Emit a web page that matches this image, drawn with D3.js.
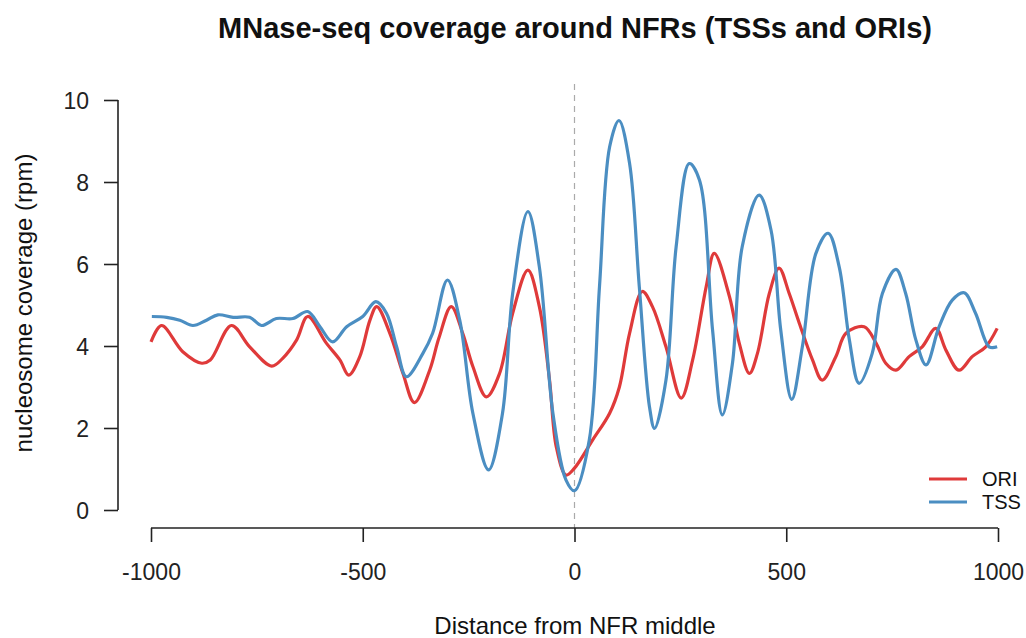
<!DOCTYPE html>
<html>
<head>
<meta charset="utf-8">
<script src="https://cdn.jsdelivr.net/npm/d3@7"></script>
<style>
  body { margin: 0; background: #fff; overflow: hidden; }
  text { font-family: "Liberation Sans", Arial, sans-serif; fill: #111; }
</style>
</head>
<body>
<script>
const w = 1026;
const h = 638;

// data
const oriPos = [-1000, -975, -925, -880, -860, -810, -767, -715, -689, -656, -630, -586, -554, -533, -507, -483, -467, -436, -405, -378, -342, -320, -291, -264, -240, -208, -177, -146, -110, -83, -59, -43, -20, 0, 43, 83, 106, 130, 160, 184, 216, 252, 279, 311, 330, 366, 389, 413, 432, 460, 483, 507, 531, 562, 585, 617, 641, 684, 712, 735, 759, 790, 821, 853, 877, 908, 939, 971, 998];
const oriVal = [4.1, 4.5, 3.86, 3.58, 3.66, 4.5, 3.98, 3.51, 3.7, 4.15, 4.72, 4.07, 3.66, 3.29, 3.74, 4.63, 4.96, 4.31, 3.33, 2.62, 3.41, 4.2, 4.96, 4.31, 3.5, 2.76, 3.33, 4.8, 5.85, 4.96, 3.17, 1.54, 0.85, 1.02, 1.71, 2.36, 3.0, 4.31, 5.33, 4.96, 3.98, 2.73, 3.66, 5.45, 6.26, 5.2, 4.07, 3.33, 3.82, 5.28, 5.9, 5.28, 4.55, 3.66, 3.17, 3.74, 4.31, 4.47, 4.07, 3.58, 3.41, 3.74, 3.98, 4.43, 3.9, 3.41, 3.74, 3.98, 4.43];

const tssPos = [-998, -963, -932, -901, -869, -842, -806, -767, -739, -704, -665, -630, -601, -571, -538, -500, -469, -444, -420, -397, -358, -335, -300, -271, -240, -203, -170, -146, -110, -83, -51, -20, 0, 35, 59, 83, 105, 130, 153, 177, 189, 216, 240, 271, 295, 326, 349, 373, 396, 436, 464, 487, 513, 538, 570, 599, 625, 649, 672, 703, 727, 759, 782, 806, 830, 861, 892, 920, 947, 979, 998];
const tssVal = [4.72, 4.7, 4.63, 4.5, 4.63, 4.76, 4.7, 4.7, 4.5, 4.67, 4.67, 4.84, 4.47, 4.1, 4.47, 4.72, 5.08, 4.8, 3.98, 3.25, 3.82, 4.31, 5.61, 4.63, 2.36, 0.98, 2.36, 5.28, 7.28, 5.93, 2.36, 0.73, 0.47, 1.71, 5.45, 8.86, 9.5, 8.46, 5.45, 2.52, 1.99, 3.17, 6.42, 8.45, 8.05, 4.39, 2.32, 3.58, 6.42, 7.68, 6.83, 4.39, 2.7, 3.98, 6.26, 6.75, 5.93, 4.15, 3.09, 3.82, 5.28, 5.87, 5.28, 4.15, 3.54, 4.47, 5.12, 5.3, 4.8, 3.98, 3.98];

const xTicks = [-1000, -500, 0, 500, 1000];
const yTicks = [0, 2, 4, 6, 8, 10];
const seriesNames = ["ORI", "TSS"];
const colors = ["#df3a3a", "#4b8ec2"];

const svg = d3.select("body").append("svg").attr("width", w).attr("height", h);

const xScale = d3.scaleLinear().domain([-1000, 1000]).range([151, 998]);
const yScale = d3.scaleLinear().domain([0, 10]).range([510, 100]);

//title
svg.append("text")
  .attr("x", 575).attr("y", 38)
  .attr("text-anchor", "middle")
  .style("font-size", "29px").style("font-weight", "bold")
  .text("MNase-seq coverage around NFRs (TSSs and ORIs)");

//zero line
svg.append("line")
  .attr("x1", xScale(0)).attr("x2", xScale(0))
  .attr("y1", 84).attr("y2", 528)
  .style("stroke", "#aaa").style("stroke-width", 1.2)
  .style("stroke-dasharray", "6,5");

//lines
const line = d3.line()
  .x((d) => xScale(d[0]))
  .y((d) => yScale(d[1]))
  .curve(d3.curveCatmullRom.alpha(0.5));

const series = [
  d3.zip(oriPos, oriVal),
  d3.zip(tssPos, tssVal)
];

svg.selectAll("path.series")
  .data(series)
  .enter()
  .append("path")
  .attr("class", "series")
  .attr("d", line)
  .style("fill", "none")
  .style("stroke", (d, i) => colors[i])
  .style("stroke-width", 3.2)
  .style("stroke-linejoin", "round");

//axes
const xAxis = d3.axisBottom(xScale).tickValues(xTicks).tickSize(14).tickPadding(22).tickFormat((d) => String(d));
const yAxis = d3.axisLeft(yScale).tickValues(yTicks).tickSize(14).tickPadding(15);

const gx = svg.append("g")
  .attr("transform", "translate(0,528)")
  .call(xAxis);
const gy = svg.append("g")
  .attr("transform", "translate(118,0)")
  .call(yAxis);

[gx, gy].forEach((g) => {
  g.selectAll("path, line").style("stroke", "#222").style("stroke-width", 1.6);
  g.selectAll("text").style("font-size", "23px").style("fill", "#222")
    .style("font-family", "'Liberation Sans', Arial, sans-serif");
});
gx.select("path").attr("d", "M" + xScale(-1000) + ",0H" + xScale(1000));
gy.select("path").attr("d", "M0," + yScale(0) + "V" + yScale(10));
gy.selectAll("text").attr("dy", "0.35em");

//axis titles
svg.append("text")
  .attr("x", 575).attr("y", 634)
  .attr("text-anchor", "middle")
  .style("font-size", "24px")
  .text("Distance from NFR middle");
svg.append("text")
  .attr("transform", "translate(32,303) rotate(-90)")
  .attr("text-anchor", "middle")
  .style("font-size", "24px")
  .text("nucleosome coverage (rpm)");

//legend
seriesNames.forEach((name, i) => {
  const y = 479 + i * 23;
  svg.append("line")
    .attr("x1", 929).attr("x2", 967)
    .attr("y1", y).attr("y2", y)
    .style("stroke", colors[i]).style("stroke-width", 3.2);
  svg.append("text")
    .attr("x", 982).attr("y", y + 7)
    .style("font-size", "20px")
    .text(name);
});
</script>
</body>
</html>
